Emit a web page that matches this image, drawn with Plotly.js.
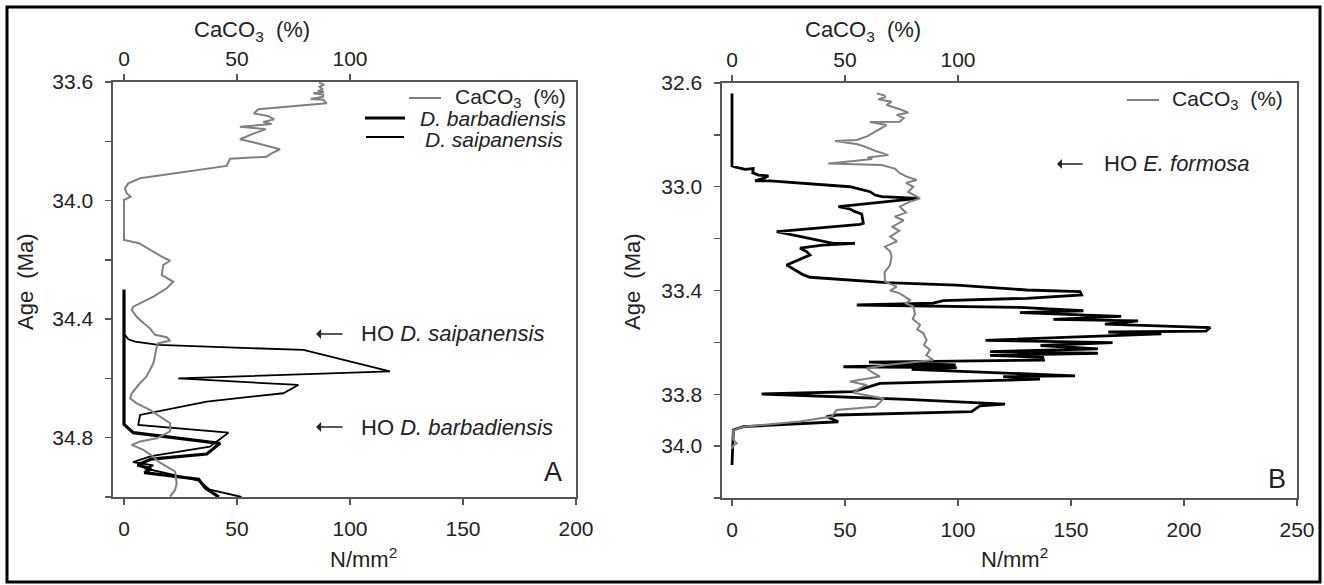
<!DOCTYPE html>
<html>
<head>
<meta charset="utf-8">
<script src="https://cdn.plot.ly/plotly-3.0.1.min.js"></script>
<style>
html,body{margin:0;padding:0;background:#fff;}
#chart{width:1324px;height:585px;}
</style>
</head>
<body>
<div id="chart"></div>
<script>
// ---------- Panel A data ----------
const ageA_caco3 = [33.602,33.609,33.616,33.625,33.630,33.634,33.638,33.643,33.650,33.657,33.660,33.672,33.692,33.706,33.715,33.726,33.735,33.742,33.751,33.759,33.775,33.793,33.805,33.816,33.827,33.841,33.852,33.859,33.883,33.925,33.942,33.959,33.975,33.987,33.998,34.009,34.133,34.144,34.167,34.189,34.203,34.217,34.251,34.274,34.296,34.324,34.358,34.369,34.392,34.408,34.431,34.453,34.461,34.473,34.481,34.493,34.549,34.594,34.616,34.650,34.667,34.684,34.706,34.729,34.751,34.779,34.802,34.813,34.824,34.841,34.864,34.881,34.897,34.914,34.954,34.976,34.999];
const caco3A = [86.3,88.5,86.5,88.0,85.8,88.5,83.8,88.2,88.0,82.6,88.2,89.7,59.4,57.5,64.0,66.4,61.6,65.3,51.3,62.8,57.0,51.3,58.0,63.1,69.0,65.3,63.1,46.9,45.4,7.1,1.9,0.4,1.2,2.9,0.0,0.0,0.0,6.6,11.5,16.7,20.4,17.4,16.7,21.8,18.9,13.0,4.1,3.4,5.6,7.8,11.5,13.7,18.9,20.4,15.2,14.5,13.0,9.9,7.1,3.4,2.7,5.6,11.5,15.9,20.4,20.4,14.5,7.1,3.4,8.6,13.0,15.2,18.9,22.6,23.3,22.6,20.4];

const ageA_barb = [34.300,34.755,34.783,34.819,34.855,34.872,34.892,34.905,34.918,34.940,34.970,35.000];
const barbA     = [0.0,0.0,4.1,42.5,36.6,12.0,6.0,12.0,9.0,33.0,36.0,42.0];

const ageA_saip = [34.453,34.468,34.476,34.487,34.504,34.543,34.576,34.600,34.622,34.650,34.678,34.723,34.757,34.783,34.830,34.862,34.882,34.893,34.903,34.945,34.975,35.000];
const saipA     = [0.4,1.9,4.9,15.2,79.4,100.0,117.7,24.0,77.1,70.5,36.6,7.1,6.3,46.2,38.0,12.0,4.0,13.0,9.0,33.0,38.0,52.0];

// ---------- Panel B data ----------
const ageB_caco3 = [32.640,32.648,32.655,32.663,32.672,32.685,32.701,32.714,32.723,32.735,32.749,32.750,32.762,32.775,32.788,32.805,32.820,32.824,32.835,32.843,32.860,32.878,32.887,32.893,32.900,32.910,32.916,32.930,32.948,32.960,32.974,32.985,33.000,33.020,33.045,33.060,33.077,33.100,33.115,33.130,33.154,33.170,33.192,33.210,33.231,33.250,33.270,33.302,33.330,33.366,33.385,33.400,33.411,33.437,33.450,33.462,33.490,33.510,33.533,33.550,33.565,33.591,33.610,33.629,33.650,33.668,33.687,33.700,33.715,33.732,33.751,33.764,33.780,33.794,33.816,33.832,33.848,33.861,33.886,33.905,33.925,33.940,33.975,33.989,33.998,34.010];
const caco3B = [64.0,67.5,67.7,64.7,70.6,68.4,74.3,78.0,72.9,76.0,74.3,61.0,68.4,66.0,63.0,60.0,55.2,45.6,55.0,58.1,63.0,69.2,60.0,62.0,55.0,42.6,66.2,72.0,74.3,77.0,81.7,77.0,80.2,78.0,83.2,78.0,74.3,77.0,72.0,76.0,71.0,74.0,70.0,73.0,67.7,70.0,70.6,69.9,67.5,67.7,72.9,70.0,74.3,78.8,77.0,80.2,81.0,80.0,83.2,82.0,84.7,86.1,85.0,87.6,86.0,89.1,68.4,59.6,62.0,65.5,52.2,59.6,56.0,53.7,67.0,65.5,63.3,46.3,44.1,30.0,5.0,0.5,0.5,2.1,0.5,0.0];

const ageB_formosa = [32.640,32.920,32.925,32.933,32.930,32.946,32.955,32.958,32.968,32.977,32.977,33.000,33.019,33.032,33.038,33.041,33.045,33.077,33.085,33.096,33.105,33.141,33.145,33.173,33.200,33.218,33.218,33.225,33.237,33.250,33.263,33.276,33.302,33.340,33.349,33.370,33.379,33.398,33.404,33.417,33.430,33.439,33.449,33.456,33.465,33.478,33.485,33.500,33.511,33.517,33.530,33.543,33.557,33.560,33.567,33.592,33.601,33.612,33.625,33.636,33.642,33.650,33.658,33.668,33.676,33.687,33.694,33.697,33.704,33.729,33.732,33.742,33.758,33.790,33.799,33.820,33.838,33.845,33.867,33.880,33.886,33.906,33.925,33.938,34.073];
const formosaB     = [0.0,0.0,2.1,5.8,9.4,9.2,11.7,16.1,13.9,10.2,16.8,52.2,61.1,63.3,66.2,75.8,82.4,47.1,52.0,54.4,57.4,58.1,56.6,19.8,35.0,44.8,54.4,40.0,30.1,33.0,34.5,30.8,24.2,31.6,34.5,68.4,99.4,130.4,154.0,154.7,130.4,93.5,89.0,55.2,127.4,155.5,127.4,172.2,142.2,179.7,165.0,211.6,209.7,166.5,190.0,112.2,168.4,136.5,161.9,114.2,161.9,114.2,137.5,137.8,60.6,99.0,49.3,99.4,79.5,151.8,120.0,136.3,65.5,53.7,13.1,77.3,120.8,109.7,106.0,46.3,41.9,47.0,5.0,0.6,0.0];

// ---------- Tick labels ----------
const xTicksA = [0,50,100,150,200];
const xTicksB = [0,50,100,150,200,250];
const topTicks = [0,50,100];
const yLabelsA = [33.6,34.0,34.4,34.8];
const yLabelsB = [32.6,33.0,33.4,33.8,34.0];

const FONT = 'Liberation Sans, Arial, sans-serif';
const AX = '#555';
const TXT = '#222';

const traces = [
  {x: caco3A, y: ageA_caco3, xaxis:'x3', yaxis:'y', mode:'lines', line:{color:'#808080', width:2}},
  {x: barbA, y: ageA_barb, xaxis:'x', yaxis:'y', mode:'lines', line:{color:'#000', width:3.2}},
  {x: saipA, y: ageA_saip, xaxis:'x', yaxis:'y', mode:'lines', line:{color:'#000', width:1.8}},
  {x: caco3B, y: ageB_caco3, xaxis:'x4', yaxis:'y2', mode:'lines', line:{color:'#808080', width:2}},
  {x: formosaB, y: ageB_formosa, xaxis:'x2', yaxis:'y2', mode:'lines', line:{color:'#000', width:2.8}}
];

function baseAxis(extra){
  return Object.assign({
    showgrid:false, zeroline:false, showline:true, linecolor:AX, linewidth:1.6,
    ticks:'outside', ticklen:6, tickwidth:1.4, tickcolor:AX,
    tickfont:{family:FONT, size:21, color:TXT}, fixedrange:true
  }, extra);
}
const minorY = (t0) => ({tick0:t0, dtick:0.2, ticks:'outside', ticklen:6, tickwidth:1.4, tickcolor:AX, showgrid:false});

const domAx = [113/1324, 576/1324];
const domAy = [1-497/585, 1-82/585];
const domBx = [722/1324, 1297/1324];
const domBy = [1-498/585, 1-83/585];

function P(px,py){ return {x:px/1324, y:1-py/585}; }

const annotations = [];
function addText(px,py,text,opts){
  const p = P(px,py);
  annotations.push(Object.assign({xref:'paper', yref:'paper', x:p.x, y:p.y, text:text, showarrow:false,
    font:{family:FONT, size:22, color:TXT}, xanchor:'center', yanchor:'middle'}, opts||{}));
}
addText(252,31,'CaCO<sub>3</sub>\u00a0\u00a0(%)');
addText(863,31,'CaCO<sub>3</sub>\u00a0\u00a0(%)');
addText(25,282,'Age\u00a0\u00a0(Ma)',{textangle:-90});
addText(632,282,'Age\u00a0\u00a0(Ma)',{textangle:-90});
addText(363,558,'N/mm<sup>2</sup>');
addText(1014,558,'N/mm<sup>2</sup>');
addText(553,472,'A',{font:{family:FONT,size:27,color:TXT}});
addText(1277,479,'B',{font:{family:FONT,size:27,color:TXT}});
// legends
const LEG = {family:FONT, size:21, color:TXT};
addText(568,98,'CaCO<sub>3</sub>\u00a0\u00a0(%)',{xanchor:'right', font:LEG});
addText(568,119,'<i>D. barbadiensis</i>',{xanchor:'right', font:LEG});
addText(565,139,'<i>D. saipanensis</i>',{xanchor:'right', font:LEG});
addText(1285,100,'CaCO<sub>3</sub>\u00a0\u00a0(%)',{xanchor:'right', font:LEG});

// HO labels (data coords)
const HOFONT = {family:FONT,size:22,color:TXT};
annotations.push({xref:'x', yref:'y', x:104, y:34.45, text:'HO <i>D. saipanensis</i>', showarrow:false, xanchor:'left', yanchor:'middle', font:HOFONT});
annotations.push({xref:'x', yref:'y', x:104, y:34.764, text:'HO <i>D. barbadiensis</i>', showarrow:false, xanchor:'left', yanchor:'middle', font:HOFONT});
annotations.push({xref:'x2', yref:'y2', x:163.7, y:32.912, text:'HO <i>E. formosa</i>', showarrow:false, xanchor:'left', yanchor:'middle', font:HOFONT});
// arrows
const ARR = {text:'', showarrow:true, ax:28, ay:0, arrowhead:1, arrowsize:1.1, arrowwidth:1.5, arrowcolor:TXT};
annotations.push(Object.assign({xref:'x', yref:'y', x:85, y:34.45}, ARR));
annotations.push(Object.assign({xref:'x', yref:'y', x:85, y:34.764}, ARR));
annotations.push(Object.assign({xref:'x2', yref:'y2', x:143.8, y:32.912}, ARR, {ax:27}));

const shapes = [
  // outer frame
  {type:'rect', xref:'paper', yref:'paper', x0:7/1324, x1:1320/1324, y0:1-582/585, y1:1-7/585, line:{color:'#000', width:3}},
  // legend lines
  {type:'line', xref:'paper', yref:'paper', x0:409/1324, x1:441/1324, y0:1-98/585, y1:1-98/585, line:{color:'#808080', width:2}},
  {type:'line', xref:'paper', yref:'paper', x0:365/1324, x1:405/1324, y0:1-118/585, y1:1-118/585, line:{color:'#000', width:3.2}},
  {type:'line', xref:'paper', yref:'paper', x0:366/1324, x1:404/1324, y0:1-137/585, y1:1-137/585, line:{color:'#000', width:1.8}},
  {type:'line', xref:'paper', yref:'paper', x0:1127/1324, x1:1159/1324, y0:1-100/585, y1:1-100/585, line:{color:'#808080', width:2}}
];

const layout = {
  width:1324, height:585,
  margin:{l:0,r:0,t:0,b:0},
  paper_bgcolor:'#fff', plot_bgcolor:'#fff',
  showlegend:false,
  font:{family:FONT, color:TXT},
  xaxis: baseAxis({domain:domAx, anchor:'y', range:[-4.87,200], tickvals:xTicksA, ticklabelstandoff:6}),
  xaxis3: baseAxis({overlaying:'x', side:'top', anchor:'y', range:[-4.87,200], tickvals:topTicks}),
  yaxis: baseAxis({domain:domAy, anchor:'x', range:[35.0,33.6], tickvals:yLabelsA, ticktext:yLabelsA.map(v=>v.toFixed(1)), mirror:true, ticklabelstandoff:8, minor:minorY(33.6)}),
  xaxis2: baseAxis({domain:domBx, anchor:'y2', range:[-4.42,250], tickvals:xTicksB, ticklabelstandoff:6}),
  xaxis4: baseAxis({overlaying:'x2', side:'top', anchor:'y2', range:[-4.42,250], tickvals:topTicks}),
  yaxis2: baseAxis({domain:domBy, anchor:'x2', range:[34.2,32.6], tickvals:yLabelsB, ticktext:yLabelsB.map(v=>v.toFixed(1)), mirror:true, ticklabelstandoff:8, minor:minorY(32.6)}),
  annotations: annotations,
  shapes: shapes
};

Plotly.newPlot('chart', traces, layout, {staticPlot:true, displayModeBar:false});
</script>
</body>
</html>
